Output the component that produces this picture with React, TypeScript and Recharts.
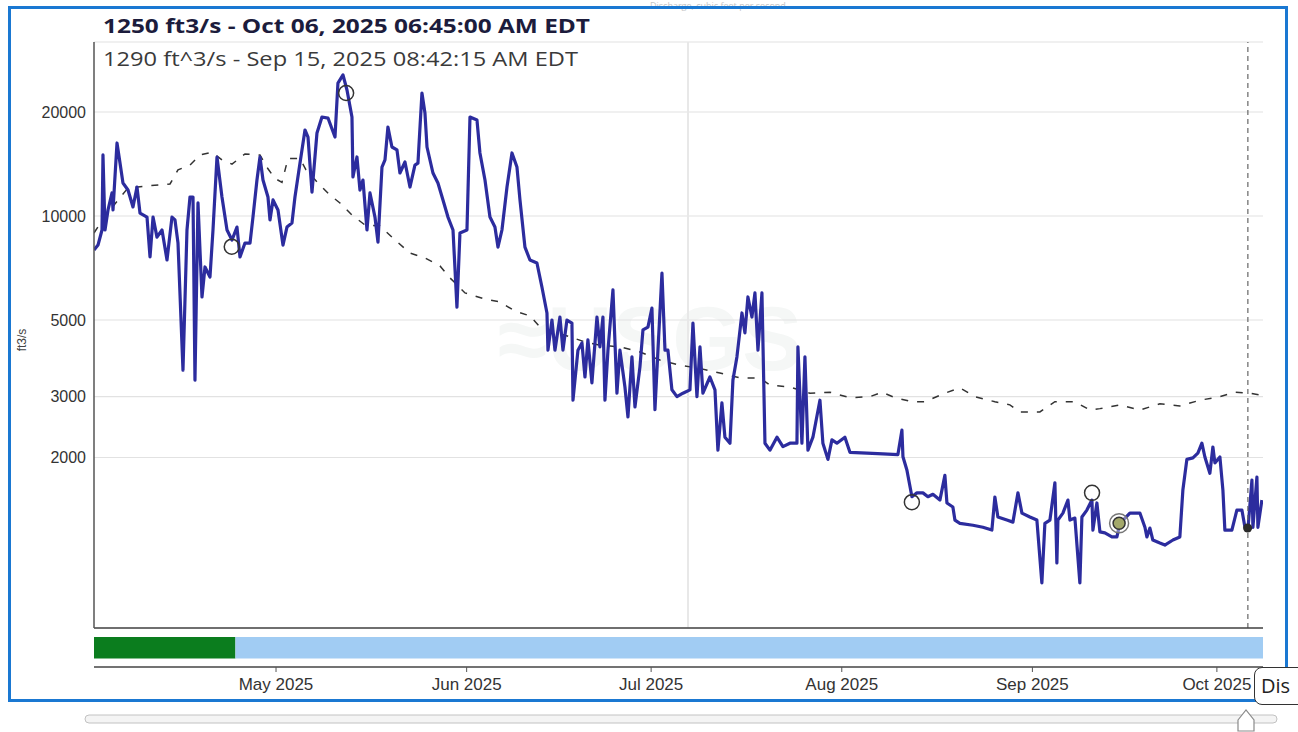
import React from 'react';
import {
  ComposedChart,
  Line,
  Scatter,
  XAxis,
  YAxis,
  CartesianGrid,
  ReferenceLine,
  Bar,
} from 'recharts';

// Day index: days since Apr 1, 2025 (May 1 = 30)
const flowDays = [
  0.4, 1.05, 1.7, 1.86, 2.19, 2.68, 3.33, 3.49, 4.14, 4.63, 5.11, 5.93, 6.74, 7.39, 7.88, 9.02, 9.51, 10.0, 10.64, 11.46,
  12.27, 13.08, 13.57, 14.06, 14.87, 15.52, 16.01, 16.5, 16.82, 17.31, 17.96, 18.45, 19.26, 19.75, 20.4, 21.21, 22.03, 22.84, 23.65, 24.14,
  24.95, 25.77, 26.25, 26.9, 27.39, 27.88, 28.69, 29.02, 29.51, 30.32, 31.13, 31.78, 32.59, 33.08, 33.9, 34.71, 35.2, 35.85, 36.66, 37.47,
  38.45, 39.59, 40.07, 40.89, 41.54, 42.35, 42.51, 43.16, 43.65, 44.14, 44.79, 45.28, 46.09, 46.58, 47.23, 47.72, 48.2, 48.85, 49.67, 50.15,
  50.97, 51.78, 52.59, 53.08, 53.73, 54.22, 54.55, 55.52, 56.33, 57.15, 57.96, 58.78, 59.42, 59.91, 61.05, 61.54, 62.68, 63.16, 63.98, 64.79,
  65.6, 66.09, 66.74, 67.56, 68.37, 69.18, 69.67, 70.48, 71.29, 72.43, 73.24, 74.06, 74.22, 74.87, 75.36, 76.17, 76.66, 77.31, 78.12, 78.29,
  79.1, 79.75, 80.24, 80.72, 81.37, 82.19, 82.67, 83.16, 83.49, 83.98, 84.79, 85.44, 85.93, 86.74, 87.23, 87.88, 88.37, 89.18, 89.67, 90.48,
  91.13, 91.62, 92.11, 92.76, 93.25, 93.73, 94.38, 95.2, 96.17, 97.31, 97.8, 98.45, 98.94, 99.42, 100.56, 101.38, 101.86, 102.51, 103.0, 103.82,
  104.3, 104.95, 105.77, 106.25, 106.74, 107.39, 107.88, 108.37, 109.02, 109.51, 110.32, 111.46, 112.43, 113.57, 114.71, 114.87, 115.52, 116.01, 116.5, 117.31,
  118.45, 118.93, 119.75, 120.4, 121.21, 122.51, 123.33, 126.09, 128.69, 131.13, 131.78, 131.95, 132.59, 133.41, 134.22, 135.2, 136.01, 136.82, 137.96, 138.77,
  139.1, 140.07, 140.4, 141.21, 143.33, 144.95, 146.41, 146.9, 147.39, 148.85, 149.83, 150.65, 151.3, 152.59, 153.73, 154.54, 155.03, 155.85, 156.66, 156.98,
  157.15, 157.96, 158.78, 159.1, 159.91, 160.72, 161.05, 161.86, 162.68, 162.84, 163.49, 163.98, 164.79, 165.93, 166.74, 167.23, 168.85, 170.48, 171.3, 171.62,
  172.11, 172.59, 173.73, 174.54, 175.85, 176.98, 177.47, 178.12, 179.1, 179.91, 180.56, 181.05, 181.86, 182.35, 182.68, 183.49, 183.98, 184.3, 185.44, 186.25,
  187.07, 187.56, 188.04, 188.7, 188.86, 189.51, 189.67, 190.32,
];
const flowValues = [
  7970, 8240, 9110, 15020, 9110, 10410, 11660, 10410, 16270, 14230, 12460, 11890, 10620, 12130, 10200, 9930, 7610, 9930, 8690, 9110,
  7460, 9930, 9740, 8350, 3580, 9110, 11350, 11350, 3350, 10910, 5830, 7120, 6660, 9110, 14820, 11350, 9110, 8520, 9290, 7610,
  8350, 8350, 9930, 12710, 14820, 12710, 11350, 9740, 11130, 10410, 8240, 9290, 9540, 11350, 14230, 17740, 16930, 11730, 17390, 19340,
  19210, 16930, 24260, 25600, 23160, 19340, 12970, 14820, 11890, 12710, 9110, 11660, 9930, 8400, 13860, 14530, 18100, 15840, 15530, 13320,
  14330, 12130, 14040, 14230, 22700, 19870, 15840, 13320, 12460, 11130, 9930, 9110, 5450, 8930, 9110, 19340, 18960, 15220, 12710, 9930,
  9290, 8130, 9110, 12130, 15220, 13860, 11130, 8130, 7460, 7310, 6230, 5240, 4090, 5000, 4090, 5100, 4090, 5000, 4900, 2930,
  4090, 4290, 3420, 4380, 3290, 5100, 4180, 5100, 2930, 4090, 6110, 3070, 4090, 3200, 2620, 3910, 2800, 3660, 4680, 4770,
  5410, 2750, 4090, 6840, 4090, 4090, 3140, 3000, 3070, 3140, 4900, 3000, 4180, 3070, 3420, 3140, 2100, 2880, 2290, 2200,
  3350, 3910, 5240, 4590, 5830, 5100, 5990, 4090, 5990, 2200, 2100, 2290, 2150, 2200, 2200, 4180, 2200, 3910, 2100, 2290,
  2930, 2200, 1975, 2250, 2200, 2290, 2070, 2060, 2050, 2040, 2400, 2010, 1840, 1540, 1580, 1580, 1540, 1565, 1506, 1775,
  1477, 1438, 1318, 1290, 1273, 1256, 1233, 1537, 1345, 1318, 1300, 1580, 1381, 1345, 1318, 867, 1290, 1318, 1690, 990,
  1318, 1381, 1506, 1318, 1336, 867, 1345, 1409, 1506, 1233, 1477, 1218, 1210, 1178, 1178, 1290, 1381, 1381, 1256, 1178,
  1250, 1154, 1131, 1116, 1154, 1178, 1610, 1975, 1995, 2060, 2200, 2007, 1800, 2145, 1930, 2007, 1610, 1233, 1233, 1409,
  1409, 1256, 1233, 1721, 1256, 1755, 1256, 1506,
];

const medianDays = [
  0.4, 2.19, 5.93, 9.51, 12.76, 14.06, 16.01, 17.64, 19.59, 21.21, 22.84, 24.95, 27.39, 28.69, 29.83, 30.97, 31.95, 33.9, 34.87, 36.82,
  38.77, 40.4, 42.35, 44.46, 46.9, 48.85, 51.78, 54.22, 56.66, 58.29, 60.73, 63.98, 66.42, 68.85, 71.29, 72.92, 75.36, 77.8, 80.24, 82.67,
  85.93, 89.18, 92.43, 95.69, 98.94, 102.19, 105.44, 108.69, 110.32, 113.57, 116.82, 120.07, 123.33, 126.58, 128.53, 130.64, 133.41, 135.52, 138.77, 141.21,
  143.65, 146.9, 149.34, 150.97, 154.22, 156.66, 159.91, 162.35, 163.98, 167.23, 170.48, 173.73, 176.98, 180.24, 183.49, 185.93, 188.37, 190.48,
];
const medianValues = [
  8930, 10000, 12060, 12240, 12380, 13600, 14040, 15020, 15300, 14530, 14130, 15120, 15020, 13700, 12840, 12520, 14680, 14680, 13600, 12460,
  11500, 10910, 10070, 9420, 9360, 8690, 7810, 7560, 7170, 6620, 5990, 5750, 5640, 5310, 5140, 4770, 4610, 4470, 4320, 4230,
  4180, 4040, 3830, 3700, 3620, 3510, 3400, 3400, 3240, 3200, 3070, 3090, 2980, 3000, 3090, 2980, 2900, 2900, 3070, 3180,
  3000, 2900, 2840, 2710, 2710, 2900, 2900, 2745, 2770, 2840, 2745, 2860, 2820, 2930, 3000, 3090, 3070, 3020,
];

const markerDays = [22.8, 41.4, 133.4, 162.7, 167.1, 188.0];
const markerValues = [8150, 22700, 1485, 1580, 1290, 1250];
const markerKinds = ['ring', 'ring', 'ring', 'ring', 'double', 'current'];

const yTicks = [2000, 3000, 5000, 10000, 20000];
const monthTicks = [30, 61, 91, 122, 153, 183];
const monthLabels = ['May 2025', 'Jun 2025', 'Jul 2025', 'Aug 2025', 'Sep 2025', 'Oct 2025'];

// Data-approval periods (day index)
const statusKinds = ['Approved', 'Provisional'];
const statusStart = [0.4, 23.4];
const statusEnd = [23.4, 190.5];

const xDomain: [number, number] = [0.4, 190.5];
const yDomain: [number, number] = [642, 31890];
const currentDay = 188.04;
const cursorDay = 97;

const flowData = flowDays.map((d, i) => ({ day: d, flow: flowValues[i] }));
const medianData = medianDays.map((d, i) => ({ day: d, flow: medianValues[i] }));
const markerData = markerDays.map((d, i) => ({ day: d, flow: markerValues[i], kind: markerKinds[i] }));
const monthData = monthTicks.map((d, i) => ({ day: d, label: monthLabels[i], v: 0 }));
const statusColor: Record<string, string> = { Approved: '#0b7d1e', Provisional: '#a1ccf3' };
const statusRow: Record<string, any> = { row: 'status' };
statusKinds.forEach((k, i) => {
  statusRow[k] = [statusStart[i], statusEnd[i]];
});
const statusData = [statusRow];

const MarkerShape = (props: any) => {
  const { cx, cy, payload } = props;
  if (cx == null || cy == null) return null;
  if (payload.kind === 'current') {
    return <circle cx={cx} cy={cy} r={4.5} fill="#2a2a2a" />;
  }
  if (payload.kind === 'double') {
    return (
      <g>
        <circle cx={cx} cy={cy} r={9.5} fill="#ffffff" fillOpacity={0.4} stroke="#777" strokeWidth={1.5} />
        <circle cx={cx} cy={cy} r={6} fill="#a3a86a" stroke="#333" strokeWidth={1.5} />
      </g>
    );
  }
  return <circle cx={cx} cy={cy} r={7.5} fill="none" stroke="#333" strokeWidth={1.5} />;
};

const axisFont = { fontFamily: 'Liberation Sans, Arial, sans-serif', fontSize: 16, fill: '#333' };
const monthFont = { fontFamily: 'Liberation Sans, Arial, sans-serif', fontSize: 17, fill: '#333' };

export default function App() {
  return (
    <div style={{ position: 'absolute', left: 0, top: 0, width: 1298, height: 732, overflow: 'hidden', background: '#fff' }}>
      <div style={{ position: 'absolute', left: 650, top: -1, fontFamily: 'Open Sans', fontSize: 9, color: '#c4c4c4', whiteSpace: 'nowrap' }}>
        Discharge, cubic feet per second
      </div>
      <div
        style={{
          position: 'absolute', left: 8, top: 6, width: 1280, height: 696,
          border: '3px solid #1a78d2', boxSizing: 'border-box',
        }}
      />
      <svg width={1298} height={732} style={{ position: 'absolute', left: 0, top: 0 }}>
        <text x={650} y={370} textAnchor="middle" fontFamily="Liberation Sans" fontWeight="bold" fontSize={90} fill="#f5f7f6">≈USGS</text>
      </svg>
      <div style={{ position: 'absolute', left: 0, top: 0 }}>
        <ComposedChart width={1298} height={640} margin={{ top: 42, right: 35, bottom: 11, left: 34 }}>
          <CartesianGrid vertical={false} stroke="#e2e2e2" strokeWidth={1.2} />
          <XAxis
            dataKey="day"
            type="number"
            domain={xDomain}
            allowDataOverflow
            height={1}
            tick={false}
            tickLine={false}
            axisLine={{ stroke: '#444', strokeWidth: 1.5 }}
          />
          <YAxis
            type="number"
            scale="log"
            domain={yDomain}
            allowDataOverflow
            ticks={yTicks}
            width={60}
            tickLine={false}
            tick={axisFont}
            axisLine={{ stroke: '#555', strokeWidth: 1.5 }}
          />
          <ReferenceLine x={cursorDay} stroke="#e8e8e8" strokeWidth={2} />
          <Line
            data={medianData}
            dataKey="flow"
            type="linear"
            stroke="#333"
            strokeWidth={1.5}
            strokeDasharray="7 9"
            dot={false}
            isAnimationActive={false}
          />
          <Line
            data={flowData}
            dataKey="flow"
            type="linear"
            stroke="#2c2c9e"
            strokeWidth={3.2}
            strokeLinejoin="round"
            dot={false}
            isAnimationActive={false}
          />
          <ReferenceLine x={currentDay} stroke="#666" strokeDasharray="5 4" strokeWidth={1.2} />
          <Scatter data={markerData} dataKey="flow" shape={MarkerShape} isAnimationActive={false} />
        </ComposedChart>
      </div>
      {/* month axis (its plot area sits behind the status strip) */}
      <div style={{ position: 'absolute', left: 0, top: 632 }}>
        <ComposedChart width={1298} height={70} data={monthData} margin={{ top: 0, right: 35, bottom: 0, left: 94 }}>
          <XAxis
            dataKey="day"
            type="number"
            domain={xDomain}
            allowDataOverflow
            ticks={monthTicks}
            tickFormatter={(v: number) => monthLabels[monthTicks.indexOf(v)] ?? ''}
            height={35}
            tickSize={5}
            tickMargin={6}
            tick={monthFont}
            tickLine={{ stroke: '#555' }}
            axisLine={{ stroke: '#444', strokeWidth: 1.5 }}
            interval={0}
          />
          <YAxis hide type="number" domain={[0, 1]} width={0} />
          <Line dataKey="v" stroke="none" dot={false} isAnimationActive={false} />
        </ComposedChart>
      </div>
      {/* approval status strip */}
      <div style={{ position: 'absolute', left: 0, top: 636 }}>
        <ComposedChart
          width={1298}
          height={24}
          layout="vertical"
          data={statusData}
          barCategoryGap={0}
          margin={{ top: 0, right: 35, bottom: 0, left: 94 }}
        >
          <XAxis type="number" domain={xDomain} allowDataOverflow hide />
          {statusKinds.map((k) => (
            <YAxis key={`y-${k}`} yAxisId={k} type="category" dataKey="row" hide width={0} />
          ))}
          {statusKinds.map((k) => (
            <Bar
              key={k}
              yAxisId={k}
              dataKey={k}
              fill={statusColor[k]}
              barSize={24}
              isAnimationActive={false}
            />
          ))}
        </ComposedChart>
      </div>
      <svg width={1298} height={732} style={{ position: 'absolute', left: 0, top: 0, pointerEvents: 'none' }}>
        <text x={103} y={33} fontFamily="Open Sans" fontWeight="bold" fontSize={20} fill="#1c1c3c" textLength={487} lengthAdjust="spacingAndGlyphs">
          1250 ft3/s - Oct 06, 2025 06:45:00 AM EDT
        </text>
        <text x={103} y={66} fontFamily="Open Sans" fontSize={20} fill="#3a3a3a" textLength={475} lengthAdjust="spacingAndGlyphs">
          1290 ft^3/s - Sep 15, 2025 08:42:15 AM EDT
        </text>
        <text x={0} y={0} transform="translate(26,340) rotate(-90)" textAnchor="middle" fontFamily="Liberation Sans" fontSize={12} fill="#444">
          ft3/s
        </text>
        <rect x={85} y={715} width={1192} height={8} rx={4} fill="#f4f4f4" stroke="#c2c2c2" strokeWidth={1} />
        <path d="M1238,720 L1246,710 L1254,720 L1254,731 L1238,731 Z" fill="#ffffff" stroke="#8a8a8a" strokeWidth={1.2} />
      </svg>
      <div
        style={{
          position: 'absolute', left: 1254, top: 667, width: 60, height: 38,
          border: '1.5px solid #333', borderRadius: 8, background: '#fff', boxSizing: 'border-box',
          fontFamily: 'Open Sans', fontSize: 20, color: '#222', paddingLeft: 6, lineHeight: '36px', whiteSpace: 'nowrap',
        }}
      >
        Dis
      </div>
    </div>
  );
}
